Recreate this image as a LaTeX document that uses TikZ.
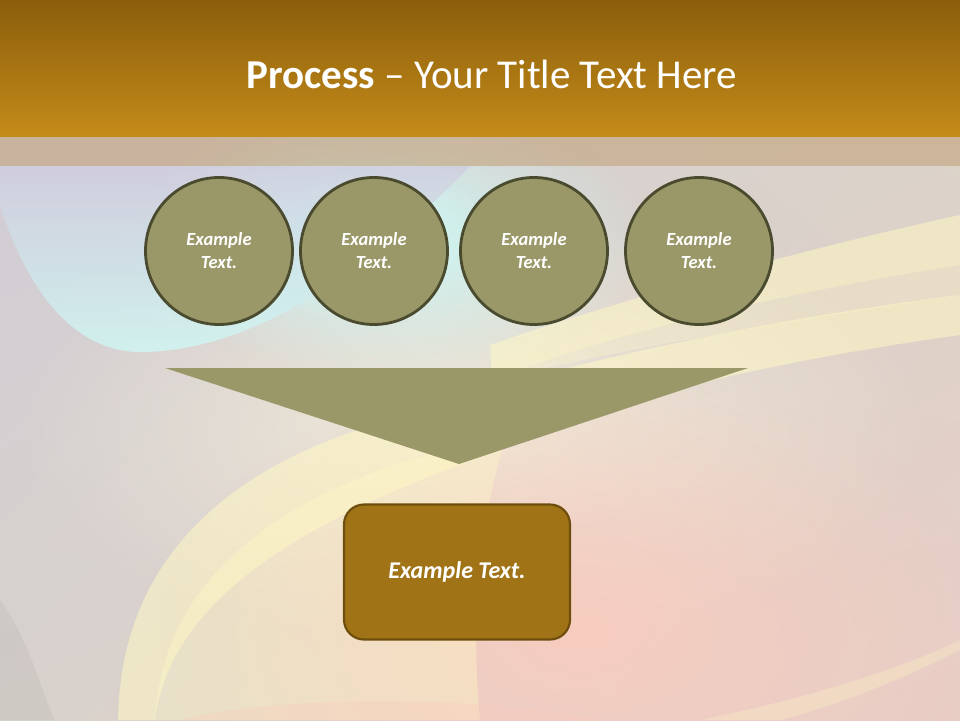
\documentclass[tikz,border=0pt]{standalone}
\usepackage{fontspec}
\setmainfont{Carlito}
\usetikzlibrary{fadings,shadings}
\tikzfading[name=softglow, inner color=transparent!0, outer color=transparent!100]
\definecolor{barTop}{HTML}{8B5E0C}
\definecolor{barBot}{HTML}{C48B19}
\definecolor{band}{HTML}{C4A47E}
\definecolor{olive}{HTML}{9A9868}
\definecolor{oliveEdge}{HTML}{4A4A2E}
\definecolor{boxFill}{HTML}{A07416}
\definecolor{boxEdge}{HTML}{6E4E0E}
\definecolor{bgA}{HTML}{CFCCD8}
\definecolor{bgB}{HTML}{E8CEC6}
\definecolor{bgC}{HTML}{D8D4CA}
\definecolor{bgD}{HTML}{D8D2CC}
\definecolor{lav}{HTML}{D0CEE0}
\definecolor{glowCyan}{HTML}{CFF8F4}
\definecolor{glowYel}{HTML}{FFF8C4}
\definecolor{glowPink}{HTML}{FACCBE}
\tikzset{
  stagecircle/.style={circle, minimum size=147pt, inner sep=0pt, fill=olive, draw=oliveEdge, line width=2.8pt,
     text=white, font=\fontsize{18.5}{23}\selectfont\bfseries\itshape, align=center},
  resultbox/.style={rounded corners=20pt, minimum width=226pt, minimum height=135pt, inner sep=0pt,
     fill=boxFill, draw=boxEdge, line width=2.2pt, text=white, font=\fontsize{24}{28}\selectfont\bfseries\itshape},
  titletext/.style={text=white, font=\fontsize{41}{48}\selectfont, anchor=base},
}
\begin{document}
\begin{tikzpicture}[x=1pt,y=-1pt]
\useasboundingbox (0,0) rectangle (960,720);
% background
\shade[upper left=bgA, upper right=bgC, lower left=bgD, lower right=bgB] (0,0) rectangle (960,720);
\begin{scope}
\clip (0,136) rectangle (960,720);
% warm light middle
\fill[white!50!glowYel, path fading=softglow, fill opacity=0.6] (470,430) ellipse (460 and 220);
% pink glow lower middle
\fill[glowPink, path fading=softglow, fill opacity=0.9] (580,630) ellipse (420 and 260);
% cyan glow
\fill[glowCyan, path fading=softglow, fill opacity=1] (390,240) ellipse (260 and 140);
\fill[glowCyan, path fading=softglow, fill opacity=0.8] (330,230) ellipse (160 and 90);
% light lavender/cyan lobe upper left
\shade[top color=lav, bottom color=glowCyan, fill opacity=0.8]
   (0,166) -- (0,205) .. controls (30,300) and (80,352) .. (140,352)
   .. controls (260,352) and (380,260) .. (470,166) -- cycle;
% big yellow swoosh
\fill[glowYel, fill opacity=0.55] (118,720) .. controls (120,600) and (180,500) .. (330,440)
   .. controls (520,370) and (760,320) .. (960,295) -- (960,335)
   .. controls (780,360) and (600,400) .. (500,450)
   .. controls (300,520) and (170,600) .. (155,720) -- cycle;
\fill[glowYel, fill opacity=0.4] (155,720) .. controls (160,620) and (220,530) .. (380,470)
   .. controls (420,455) and (470,445) .. (505,440)
   .. controls (480,520) and (470,620) .. (480,720) -- cycle;
% upper right yellow band
\fill[glowYel, fill opacity=0.55] (490,345) .. controls (620,300) and (800,250) .. (960,215) -- (960,265)
   .. controls (800,290) and (620,330) .. (492,380) -- cycle;
\fill[glowYel, fill opacity=0.3] (492,380) .. controls (640,345) and (800,320) .. (960,295) -- (960,265)
   .. controls (800,290) and (620,330) .. (492,380) -- cycle;
% pink wash bottom
\fill[glowPink, fill opacity=0.35] (180,720) .. controls (250,700) and (450,690) .. (600,720) -- cycle;
% gray corner bottom left
\fill[gray, fill opacity=0.1] (0,600) .. controls (30,640) and (40,690) .. (55,720) -- (0,720) -- cycle;
% light streaks bottom right
\fill[glowYel, fill opacity=0.3] (960,640) -- (960,650) .. controls (880,690) and (820,710) .. (780,720) -- (700,720)
   .. controls (800,700) and (900,670) .. (960,640) -- cycle;
\end{scope}
% band under title
\fill[band, fill opacity=0.62] (0,136) rectangle (960,166);
% title bar
\shade[top color=barTop, bottom color=barBot] (0,0) rectangle (960,136);
\node[titletext] (title) at (492,88) {\textbf{Process} – Your Title Text Here};
% circles
\node[stagecircle] (c1) at (219,251) {Example\\Text.};
\node[stagecircle] (c2) at (374,251) {Example\\Text.};
\node[stagecircle] (c3) at (534,251) {Example\\Text.};
\node[stagecircle] (c4) at (699,251) {Example\\Text.};
% funnel triangle
\coordinate (tl) at (165,368);
\coordinate (tr) at (748,368);
\coordinate (tb) at (459,464);
\fill[olive] (tl) -- (tr) -- (tb) -- cycle;
% result box
\node[resultbox] (res) at (457,572) {Example Text.};
\end{tikzpicture}
\end{document}
